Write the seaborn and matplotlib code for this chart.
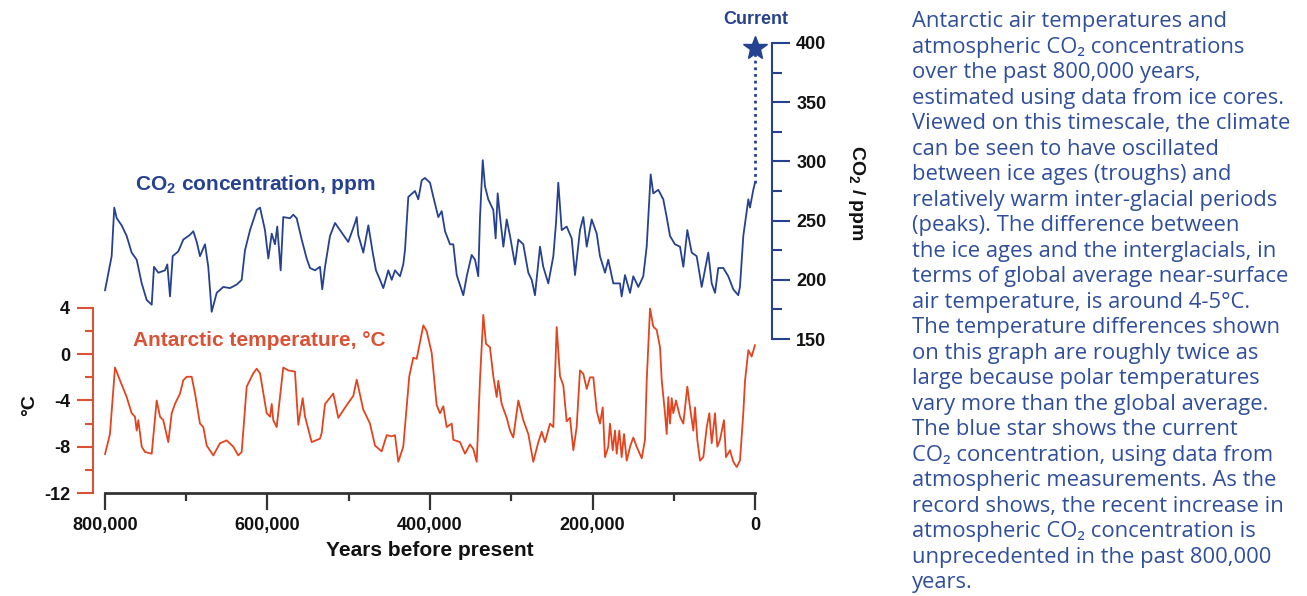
import numpy as np
import pandas as pd
import matplotlib
matplotlib.use("Agg")
import matplotlib.pyplot as plt
import seaborn as sns

# values, ages in thousands of years before present
co2_age = [800.0, 791.8, 788.6, 785.6, 779.5, 773.3, 767.2, 761.0, 754.8, 748.7,
           742.5, 739.7, 734.4, 726.2, 723.3, 720.0, 716.7, 709.8, 703.6, 695.4,
           691.3, 687.1, 683.1, 676.9, 672.9, 668.7, 662.5, 654.4, 646.2, 637.9,
           631.8, 627.7, 621.5, 613.3, 609.2, 603.1, 599.0, 594.8, 590.8, 588.0,
           583.8, 580.6, 572.3, 568.3, 564.1, 557.9, 551.8, 547.7, 541.5, 535.4,
           532.6, 529.2, 523.1, 516.9, 510.8, 500.6, 492.3, 490.2, 488.3, 482.1,
           475.9, 470.5, 466.5, 461.5, 457.5, 451.3, 447.1, 443.1, 436.9, 432.9,
           430.8, 426.7, 418.5, 414.4, 410.2, 406.2, 400.0, 395.9, 389.8, 385.6,
           381.5, 375.4, 371.3, 367.1, 359.0, 354.8, 348.7, 344.6, 340.6, 338.5,
           335.1, 332.3, 328.3, 322.1, 319.2, 316.7, 313.8, 309.7, 305.6, 301.5,
           295.4, 291.3, 285.2, 279.0, 274.8, 270.8, 264.6, 260.6, 254.4, 248.2,
           244.9, 242.1, 237.9, 231.8, 225.6, 221.5, 215.4, 211.3, 207.1, 201.0,
           194.8, 190.8, 184.6, 180.6, 174.4, 166.2, 164.1, 160.0, 153.8, 149.8,
           143.6, 137.5, 133.3, 128.4, 125.2, 119.0, 112.9, 108.7, 104.6, 98.5,
           92.3, 88.2, 83.3, 77.9, 71.8, 65.6, 57.5, 53.3, 49.2, 45.2,
           39.0, 32.9, 26.7, 20.6, 18.5, 14.4, 8.2, 6.2, 2.1, 0.0]
co2_ppm = [191, 220, 261, 252, 246, 237, 223, 217, 197, 183,
           179, 211, 206, 208, 213, 186, 220, 224, 234, 238,
           241, 232, 220, 230, 211, 173, 189, 194, 193, 196,
           200, 225, 242, 259, 261, 242, 218, 239, 230, 245,
           208, 253, 252, 255, 252, 234, 218, 210, 208, 211,
           192, 211, 237, 248, 242, 232, 248, 253, 238, 223,
           246, 223, 208, 200, 193, 208, 200, 208, 203, 213,
           225, 270, 275, 268, 284, 286, 282, 270, 253, 258,
           241, 230, 230, 204, 187, 203, 221, 217, 203, 252,
           301, 279, 268, 259, 235, 273, 253, 228, 251, 237,
           213, 234, 230, 206, 200, 187, 228, 211, 197, 220,
           248, 282, 242, 245, 235, 204, 242, 253, 228, 251,
           239, 220, 206, 217, 197, 197, 186, 204, 189, 203,
           194, 203, 228, 289, 273, 276, 268, 253, 237, 230,
           228, 211, 242, 223, 220, 194, 223, 197, 189, 210,
           210, 203, 192, 187, 194, 237, 268, 261, 276, 282]

temp_age = [800.0, 793.9, 787.7, 781.6, 773.3, 767.2, 763.1, 761.0, 759.0, 754.8,
            750.8, 742.5, 736.4, 732.3, 728.3, 722.1, 717.9, 713.9, 707.7, 703.6,
            699.5, 693.3, 689.2, 683.1, 679.0, 674.8, 666.7, 658.5, 650.2, 642.1,
            635.9, 631.8, 625.6, 617.5, 613.3, 609.2, 601.0, 596.9, 594.8, 592.9,
            588.7, 580.6, 574.4, 566.2, 562.1, 556.7, 553.8, 545.6, 535.4, 533.3,
            529.2, 519.0, 512.9, 502.5, 494.4, 490.2, 482.1, 477.9, 473.9, 467.7,
            459.5, 453.3, 447.1, 443.1, 439.0, 432.9, 425.5, 420.6, 416.4, 408.2,
            404.1, 397.9, 391.8, 387.7, 383.6, 379.5, 373.3, 371.3, 363.1, 356.9,
            350.8, 346.7, 342.5, 338.5, 334.4, 331.1, 326.2, 322.1, 317.9, 315.9,
            311.8, 305.6, 301.5, 297.5, 291.3, 285.2, 279.0, 272.9, 266.7, 262.5,
            258.5, 252.3, 248.2, 244.1, 240.0, 235.9, 231.8, 227.7, 223.6, 219.5,
            215.4, 211.3, 207.1, 203.1, 199.0, 194.8, 190.8, 187.4, 184.6, 180.6,
            178.5, 175.1, 172.3, 170.2, 167.0, 164.1, 161.2, 157.9, 153.8, 149.8,
            145.6, 139.4, 135.4, 133.3, 129.2, 125.2, 121.0, 116.9, 114.8, 110.8,
            108.7, 106.7, 104.6, 102.5, 100.6, 97.2, 94.4, 92.3, 88.2, 83.3,
            80.0, 75.9, 73.8, 71.0, 67.7, 63.6, 59.4, 56.2, 53.3, 49.2,
            46.4, 43.1, 38.2, 35.7, 30.8, 26.7, 22.5, 18.5, 14.4, 12.3,
            8.2, 4.1, 0.0]
temp_c = [-8.65, -6.9, -1.15, -2.25, -3.7, -5.1, -5.4, -6.6, -5.7, -8.0,
          -8.45, -8.6, -4.0, -5.4, -5.7, -7.6, -5.1, -4.3, -3.4, -2.25,
          -1.95, -1.95, -3.4, -6.0, -6.3, -7.9, -8.75, -7.7, -7.45, -8.0,
          -8.75, -8.45, -2.8, -1.65, -1.25, -1.65, -5.1, -5.4, -4.3, -5.7,
          -6.3, -1.15, -1.4, -1.5, -6.1, -3.8, -5.4, -7.6, -7.3, -6.8,
          -4.3, -3.4, -5.5, -4.4, -3.6, -2.2, -4.8, -5.4, -6.0, -7.9,
          -8.4, -7.0, -7.1, -7.0, -9.3, -8.0, -1.9, -0.3, -0.4, 2.5,
          2.0, 0.1, -4.4, -5.1, -4.5, -6.3, -6.0, -7.4, -7.6, -8.6,
          -7.8, -8.2, -9.3, -2.25, 3.4, 0.9, 0.6, -1.9, -3.7, -2.3,
          -4.3, -5.5, -6.6, -7.2, -4.0, -5.7, -6.9, -9.3, -7.6, -6.7,
          -7.6, -6.0, -6.3, 2.35, -1.9, -2.7, -5.8, -5.5, -8.3, -6.3,
          -1.4, -1.7, -3.0, -2.0, -2.0, -4.9, -6.0, -4.6, -8.9, -8.0,
          -6.0, -8.3, -6.6, -8.6, -6.6, -8.9, -6.9, -9.2, -8.0, -7.2,
          -8.0, -9.0, -7.4, -2.3, 3.95, 2.4, 2.1, 0.6, -2.25, -5.1,
          -6.9, -3.7, -6.0, -3.8, -5.1, -4.0, -4.8, -5.4, -6.0, -2.8,
          -4.6, -6.6, -4.6, -7.4, -9.2, -8.9, -6.3, -5.1, -7.7, -5.1,
          -8.0, -7.4, -5.7, -8.9, -8.3, -9.3, -9.75, -9.2, -5.1, -2.3,
          0.35, -0.2, 0.8]

current_co2 = 396

x_ticks = [800000, 600000, 400000, 200000, 0]
x_ticklabels = ["800,000", "600,000", "400,000", "200,000", "0"]
x_minor = [700000, 500000, 300000, 100000]
t_ticks = [-12, -8, -4, 0, 4]
t_minor = [-10, -6, -2, 2]
c_ticks = [150, 200, 250, 300, 350, 400]
c_minor = [175, 225, 275, 325, 375]

caption_lines = [
    "Antarctic air temperatures and",
    "atmospheric CO\u2082 concentrations",
    "over the past 800,000 years,",
    "estimated using data from ice cores.",
    "Viewed on this timescale, the climate",
    "can be seen to have oscillated",
    "between ice ages (troughs) and",
    "relatively warm inter-glacial periods",
    "(peaks). The difference between",
    "the ice ages and the interglacials, in",
    "terms of global average near-surface",
    "air temperature, is around 4-5\u00b0C.",
    "The temperature differences shown",
    "on this graph are roughly twice as",
    "large because polar temperatures",
    "vary more than the global average.",
    "The blue star shows the current",
    "CO\u2082 concentration, using data from",
    "atmospheric measurements. As the",
    "record shows, the recent increase in",
    "atmospheric CO\u2082 concentration is",
    "unprecedented in the past 800,000",
    "years.",
]

navy = "#26418f"
red = "#e2441f"
red_axis = "#d95236"
dark = "#333333"
caption_color = "#2f4e9c"

sns.set_style("ticks")
plt.rcParams["font.family"] = ["Liberation Sans", "DejaVu Sans"]
plt.rcParams["axes.unicode_minus"] = False
plt.rcParams["mathtext.fontset"] = "custom"
plt.rcParams["mathtext.rm"] = "Liberation Sans"
plt.rcParams["mathtext.bf"] = "Liberation Sans:bold"

W, H = 1307, 596
fig = plt.figure(figsize=(W / 100, H / 100), dpi=100)
ax = fig.add_axes([105 / W, (H - 493) / H, 650 / W, 473 / H])
ax2 = ax.twinx()

temp_df = pd.DataFrame({"age": np.array(temp_age) * 1000, "temp": temp_c})
co2_df = pd.DataFrame({"age": np.array(co2_age) * 1000, "co2": co2_ppm})

sns.lineplot(data=temp_df, x="age", y="temp", ax=ax, color=red, linewidth=1.3,
             estimator=None, sort=False, clip_on=False)
sns.lineplot(data=co2_df, x="age", y="co2", ax=ax2, color=navy, linewidth=1.3,
             estimator=None, sort=False, clip_on=False)

# current CO2 star and dotted link to the ice-core record
ax2.plot([0, 0], [co2_ppm[-1], current_co2], ls=(0, (1, 1.4)), color=navy, lw=2,
         clip_on=False)
ax2.plot([0], [current_co2], marker="*", ms=18, color=navy, clip_on=False)

ax.set_xlim(800000, 0)
ax.set_ylim(-12, 28.9)
ax2.set_ylim(20.0, 419.4)
ax.set_xlabel("")
ax.set_ylabel("")
ax2.set_ylabel("")

# spines
ax.spines["top"].set_visible(False)
ax.spines["right"].set_visible(False)
ax.spines["left"].set_position(("outward", 8.6))
ax.spines["left"].set_bounds(-12, 4)
ax.spines["left"].set_color(red_axis)
ax.spines["left"].set_linewidth(1.5)
ax.spines["bottom"].set_bounds(800000, 0)
ax.spines["bottom"].set_color(dark)
ax.spines["bottom"].set_linewidth(2)
for s in ["top", "left", "bottom"]:
    ax2.spines[s].set_visible(False)
ax2.spines["right"].set_position(("outward", 12.2))
ax2.spines["right"].set_bounds(150, 400)
ax2.spines["right"].set_color(navy)
ax2.spines["right"].set_linewidth(1.5)

# ticks
ax.set_xticks(x_ticks, x_ticklabels)
ax.set_xticks(x_minor, minor=True)
ax.tick_params(axis="x", which="major", bottom=True, direction="out", length=12,
               width=1.6, color=dark, pad=5.5, labelsize=13)
ax.tick_params(axis="x", which="minor", bottom=True, direction="out", length=6,
               width=1.6, color=dark)
ax.set_yticks(t_ticks)
ax.set_yticks(t_minor, minor=True)
ax.tick_params(axis="y", which="major", left=True, direction="out", length=11.5,
               width=1.5, color=red_axis, pad=5, labelsize=13)
ax.tick_params(axis="y", which="minor", left=True, direction="out", length=6,
               width=1.5, color=red_axis)
ax2.set_yticks(c_ticks)
ax2.set_yticks(c_minor, minor=True)
ax2.tick_params(axis="y", which="major", right=True, direction="out", length=13,
                width=1.5, color=navy, pad=4.5, labelsize=13)
ax2.tick_params(axis="y", which="minor", right=True, direction="out", length=7,
                width=1.5, color=navy)
for lab in ax.get_xticklabels() + ax.get_yticklabels() + ax2.get_yticklabels():
    lab.set_fontweight("bold")
    lab.set_color("#111111")

# labels
fig.text(430 / W, 1 - 550 / H, "Years before present", fontsize=15,
         fontweight="bold", ha="center", va="center", color="#111111")
fig.text(30 / W, 1 - 405 / H, "\u00b0C", fontsize=14, fontweight="bold",
         rotation=90, ha="center", va="center", color="#111111")
fig.text(857 / W, 1 - 193 / H, r"CO$_\mathbf{2}$ / ppm", fontsize=14,
         fontweight="bold", rotation=270, ha="center", va="center", color="#111111")
fig.text(135 / W, 1 - 185 / H, r"CO$_\mathbf{2}$ concentration, ppm", fontsize=15,
         fontweight="bold", ha="left", va="center", color=navy)
fig.text(133 / W, 1 - 340 / H, "Antarctic temperature, \u00b0C", fontsize=15,
         fontweight="bold", ha="left", va="center", color=red_axis)
fig.text(756 / W, 1 - 20 / H, "Current", fontsize=13, fontweight="bold",
         ha="center", va="center", color=navy)

# caption block on the right
for i, line in enumerate(caption_lines):
    fig.text(912 / W, 1 - (21.7 + 25.5 * i) / H, line, fontsize=15.8,
             family=["Open Sans", "DejaVu Sans"], color=caption_color,
             ha="left", va="center")

fig.savefig("out.png", dpi=100)
